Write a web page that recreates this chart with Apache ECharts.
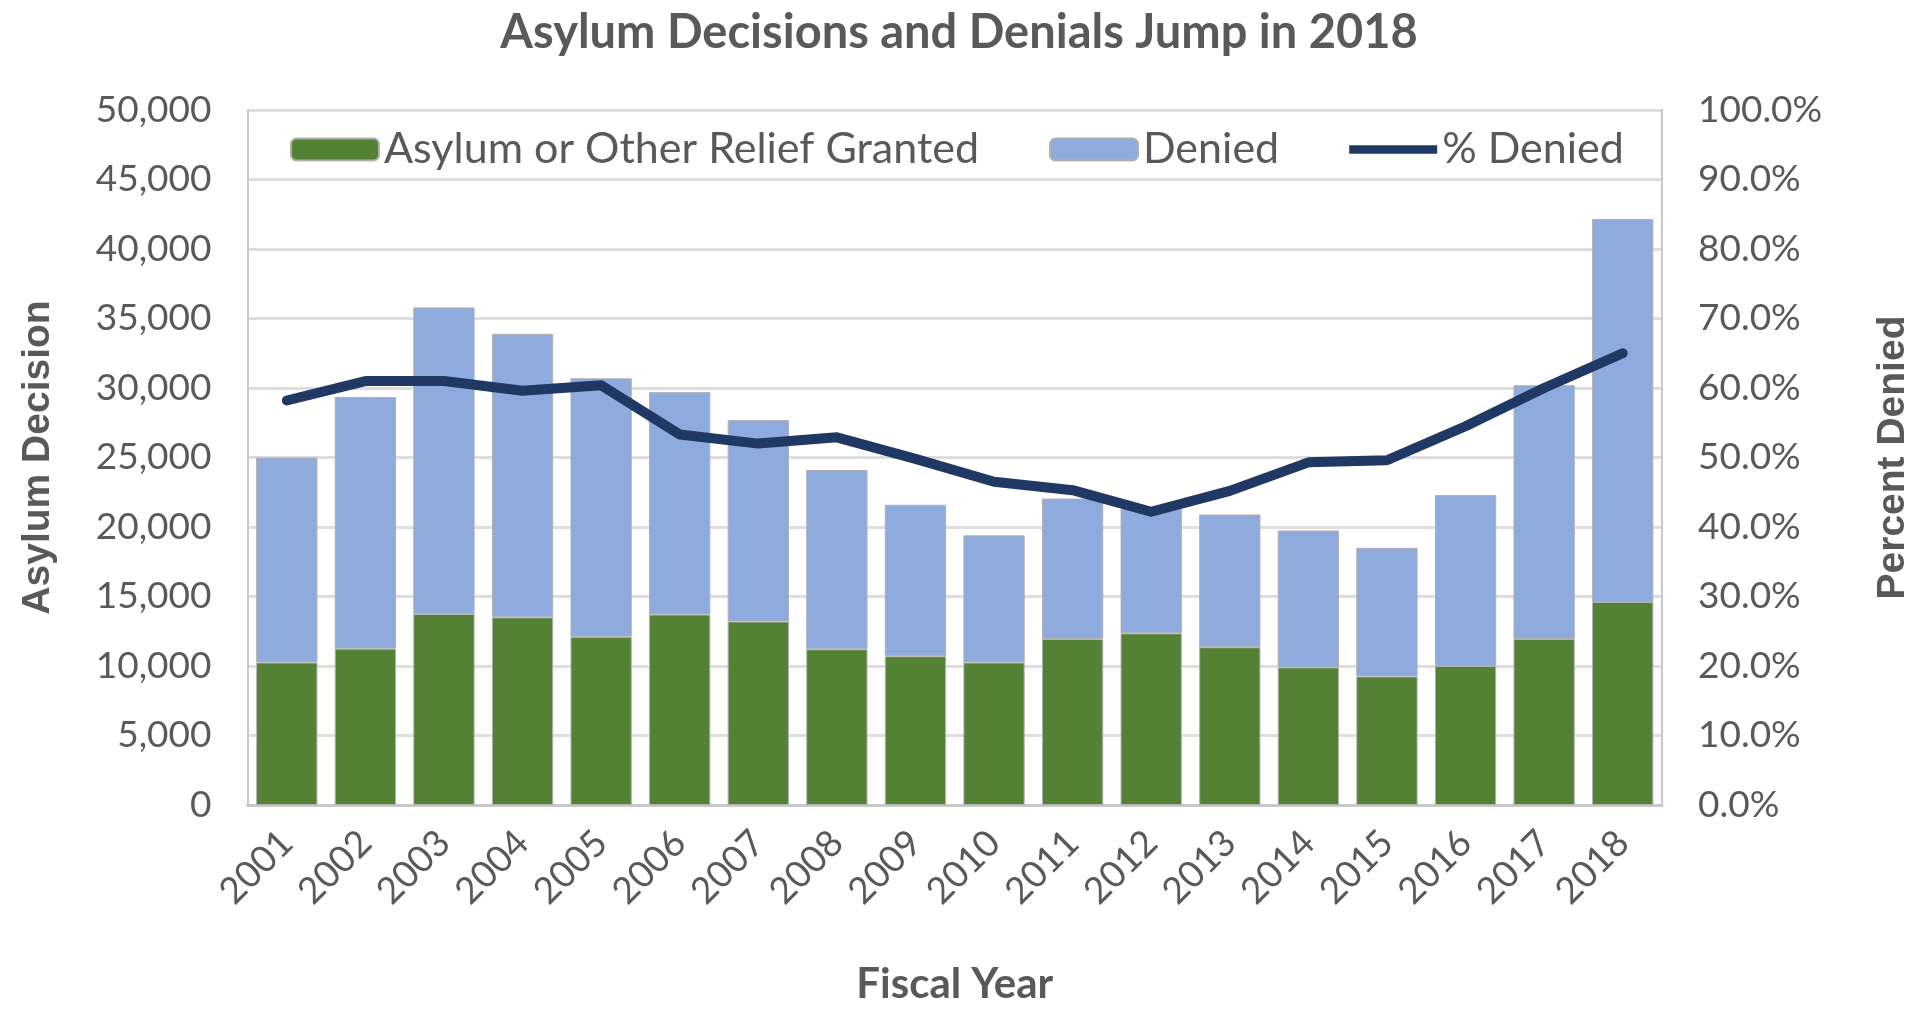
<!DOCTYPE html>
<html>
<head>
<meta charset="utf-8">
<script src="https://cdn.jsdelivr.net/npm/echarts@6/dist/echarts.min.js"></script>
<style>
html,body{margin:0;padding:0;background:#fff;}
#chart{width:1921px;height:1010px;}
</style>
</head>
<body>
<div id="chart"></div>
<script>
var years = ['2001','2002','2003','2004','2005','2006','2007','2008','2009','2010','2011','2012','2013','2014','2015','2016','2017','2018'];
var granted = [10250,11250,13750,13500,12100,13700,13200,11200,10700,10250,11950,12350,11350,9900,9250,10000,11950,14600];
var totals  = [25000,29350,35800,33900,30700,29700,27700,24100,21600,19400,22050,21300,20900,19750,18500,22300,30200,42150];
var denied = totals.map(function(t,i){ return t - granted[i]; });
var pctDenied = [58.2,61.0,61.0,59.6,60.4,53.3,52.0,52.9,49.8,46.5,45.3,42.2,45.2,49.3,49.6,54.5,60.0,65.0];
var leftTicks = {min:0, max:50000, interval:5000};
var rightTicks = {min:0, max:100, interval:10};

var chart = echarts.init(document.getElementById('chart'), null, {renderer:'canvas'});
var gray = '#595959';
var font = 'Lato';
chart.setOption({
  backgroundColor:'#ffffff',
  animation:false,
  title:{
    text:'Asylum Decisions and Denials Jump in 2018',
    left:954, top:4, textAlign:'center',
    textStyle:{fontFamily:font, fontWeight:'bold', fontSize:47, color:gray}
  },
  legend:{
    left:285, top:123,
    itemWidth:88, itemHeight:22, itemGap:70,
    textStyle:{fontFamily:font, fontSize:43, color:gray},
    data:[
      {name:'Asylum or Other Relief Granted'},
      {name:'Denied'},
      {name:'% Denied', icon:'path://M0,0h92v9h-92z'}
    ]
  },
  grid:{left:247.5, right:255, top:110, bottom:202.5, containLabel:false},
  xAxis:{
    type:'category', data:years,
    axisTick:{show:false},
    axisLine:{lineStyle:{color:'#c8c8c8', width:3}},
    axisLabel:{rotate:45, margin:32, fontFamily:font, fontSize:37, color:gray},
    name:'Fiscal Year', nameLocation:'middle', nameGap:158,
    nameTextStyle:{fontFamily:font, fontWeight:'bold', fontSize:42, color:gray}
  },
  yAxis:[{
    type:'value', min:leftTicks.min, max:leftTicks.max, interval:leftTicks.interval,
    axisLine:{show:true, lineStyle:{color:'#c8c8c8', width:2}},
    axisTick:{show:false},
    splitLine:{lineStyle:{color:'#dedede', width:3}},
    axisLabel:{margin:36, fontFamily:font, fontSize:37, color:gray,
      formatter:function(v){ return v.toLocaleString('en-US'); }},
    name:'Asylum Decision', nameLocation:'middle', nameGap:190, nameRotate:90,
    nameTextStyle:{fontFamily:'Liberation Sans', fontWeight:'bold', fontSize:39, color:gray}
  },{
    type:'value', min:rightTicks.min, max:rightTicks.max, interval:rightTicks.interval,
    position:'right',
    axisLine:{show:true, lineStyle:{color:'#c8c8c8', width:2}},
    axisTick:{show:false},
    splitLine:{show:false},
    axisLabel:{margin:36, fontFamily:font, fontSize:37, color:gray,
      formatter:function(v){ return v.toFixed(1)+'%'; }},
    name:'Percent Denied', nameLocation:'middle', nameGap:212, nameRotate:90,
    nameTextStyle:{fontFamily:'Liberation Sans', fontWeight:'bold', fontSize:39, color:gray}
  }],
  series:[{
    name:'Asylum or Other Relief Granted', type:'bar', stack:'d', data:granted,
    barCategoryGap:'22%',
    itemStyle:{color:'#548235', borderColor:'#b0b0b0', borderWidth:1}
  },{
    name:'Denied', type:'bar', stack:'d', data:denied,
    itemStyle:{color:'#8faadc', borderColor:'#b0b0b0', borderWidth:1}
  },{
    name:'% Denied', type:'line', yAxisIndex:1, data:pctDenied,
    symbol:'none', smooth:false,
    lineStyle:{color:'#203864', width:10, cap:'round', join:'round'},
    itemStyle:{color:'#203864'}
  }]
});
</script>
</body>
</html>
